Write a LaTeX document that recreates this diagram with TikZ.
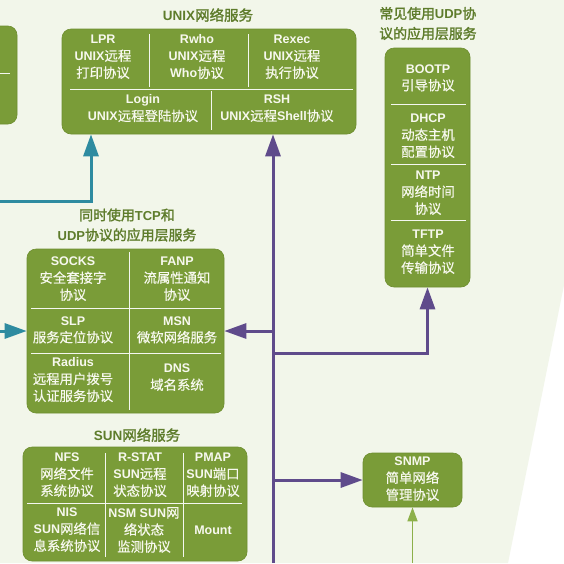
\documentclass[tikz,border=0pt]{standalone}
\usepackage{fontspec}
\setmainfont{Noto Sans CJK SC}[Scale=1.07,FakeBold=0.5]
\newfontfamily\enf{Liberation Sans}
\newfontfamily\cjkb{Noto Sans CJK SC}[Scale=1.07,FakeBold=1.8]
\newcommand\E[1]{{\enf\bfseries #1}}
\newcommand\B[1]{{\cjkb #1}}
\usetikzlibrary{arrows.meta}
\definecolor{bgc}{HTML}{F2F6EA}
\definecolor{boxg}{HTML}{7A9C38}
\definecolor{boxe}{HTML}{6E8E30}
\definecolor{ttlg}{HTML}{5E7C2B}
\definecolor{tealc}{HTML}{2E8BA0}
\definecolor{purc}{HTML}{5F4B8B}
\definecolor{lgc}{HTML}{8DB04A}
\definecolor{txtc}{HTML}{F7F8EE}
\tikzset{
  box/.style={draw=boxe, fill=boxg, rounded corners=9pt, inner sep=0pt, line width=0.6pt},
  txt/.style={text=txtc, align=center, font=\fontsize{12.5}{17}\selectfont, inner sep=0pt},
  ttl/.style={text=ttlg, align=center, font=\fontsize{13}{20}\selectfont, inner sep=0pt},
  divl/.style={draw=white!92!boxg, line width=1pt},
  purarrow/.style={draw=purc, line width=3pt, -{Triangle[length=22pt,width=15pt]}},
  tealarrow/.style={draw=tealc, line width=3pt, -{Triangle[length=22pt,width=15pt]}},
  lgarrow/.style={draw=lgc, line width=1.5pt, -{Triangle[length=14pt,width=10pt]}}
}
\begin{document}
\begin{tikzpicture}[x=1pt,y=-1pt]
\useasboundingbox (0,0) rectangle (564,563);
\clip (0,0) rectangle (564,563);
\fill[white] (0,0) rectangle (564,563);
\fill[bgc] (0,0) -- (564,0) -- (564,285) -- (508,563) -- (0,563) -- cycle;

% partial left box
\node[box, minimum width=44pt, minimum height=98pt] (leftbox) at (-5,75) {};
\draw[divl] (0,73) -- (10,73);

% UNIX box
\node[ttl, font=\fontsize{13.5}{20}\selectfont] (unixt) at (208,15) {\E{UNIX}\B{网络服务}};
\node[box, minimum width=294pt, minimum height=105pt] (unix) at (209,81.5) {};
\draw[divl] (149,34) -- (149,87);
\draw[divl] (248,34) -- (248,87);
\draw[divl] (70,89) -- (353,89);
\draw[divl] (211,91) -- (211,130);
\node[txt] (lpr) at (103,57) {\E{LPR}\\\E{UNIX}远程\\打印协议};
\node[txt] (rwho) at (197,57) {\E{Rwho}\\\E{UNIX}远程\\\E{Who}协议};
\node[txt] (rexec) at (292,57) {\E{Rexec}\\\E{UNIX}远程\\执行协议};
\node[txt] (login) at (143,108.5) {\E{Login}\\\E{UNIX}远程登陆协议};
\node[txt] (rsh) at (277,108.5) {\E{RSH}\\\E{UNIX}远程\E{Shell}协议};

% UDP box
\node[ttl, align=left] (udpt) at (428,23.5) {\B{常见使用}\E{UDP}\B{协}\\\B{议的应用层服务}};
\node[box, minimum width=85pt, minimum height=239pt] (udp) at (427.5,167.5) {};
\draw[divl] (391,104) -- (466,104);
\draw[divl] (391,164) -- (466,164);
\draw[divl] (391,220) -- (466,220);
\node[txt] (bootp) at (428,78) {\E{BOOTP}\\引导协议};
\node[txt] (dhcp) at (428,136) {\E{DHCP}\\动态主机\\配置协议};
\node[txt] (ntp) at (428,193) {\E{NTP}\\网络时间\\协议};
\node[txt] (tftp) at (428,252) {\E{TFTP}\\简单文件\\传输协议};

% TCP/UDP box
\node[ttl] (tcpt) at (127,225) {\B{同时使用}\E{TCP}\B{和}\\\E{UDP}\B{协议的应用层服务}};
\node[box, minimum width=197pt, minimum height=164pt] (tcp) at (125.5,331) {};
\draw[divl] (129,252) -- (129,410);
\draw[divl] (31,308) -- (221,308);
\draw[divl] (31,353) -- (221,353);
\node[txt] (socks) at (73,279) {\E{SOCKS}\\安全套接字\\协议};
\node[txt] (fanp) at (177,279) {\E{FANP}\\流属性通知\\协议};
\node[txt] (slp) at (73,330) {\E{SLP}\\服务定位协议};
\node[txt] (msn) at (177,330) {\E{MSN}\\微软网络服务};
\node[txt] (radius) at (73,380) {\E{Radius}\\远程用户拨号\\认证服务协议};
\node[txt] (dns) at (177,377.5) {\E{DNS}\\域名系统};

% SUN box
\node[ttl, font=\fontsize{13.5}{20}\selectfont] (sunt) at (137,435) {\E{SUN}\B{网络服务}};
\node[box, minimum width=224pt, minimum height=114pt] (sun) at (135,504) {};
\draw[divl] (105,453) -- (105,557);
\draw[divl] (183,453) -- (183,557);
\draw[divl] (27,503) -- (242,503);
\node[txt] (nfs) at (67,475) {\E{NFS}\\网络文件\\系统协议};
\node[txt] (rstat) at (140,475) {\E{R-STAT}\\\E{SUN}远程\\状态协议};
\node[txt] (pmap) at (213,475) {\E{PMAP}\\\E{SUN}端口\\映射协议};
\node[txt] (nis) at (67,530) {\E{NIS}\\\E{SUN}网络信\\息系统协议};
\node[txt] (nsm) at (144,530) {\E{NSM SUN}网\\络状态\\监测协议};
\node[txt] (mount) at (213,530) {\E{Mount}};

% SNMP box
\node[box, minimum width=99pt, minimum height=54pt] (snmp) at (412.5,480) {};
\node[txt] (snmpt) at (412.5,479) {\E{SNMP}\\简单网络\\管理协议};

% connectors
\coordinate (t0) at (0,201);
\draw[tealarrow] (t0) -| ([xshift=-118pt]unix.south);
\coordinate (t1) at (0,331);
\draw[tealarrow] (t1) -- (tcp.west);

\coordinate (pb) at (273,563);
\coordinate (j1) at (273,331);
\coordinate (j2) at (273,353);
\coordinate (j3) at (273,480);
\draw[purarrow] (pb) -- (unix.south -| pb);
\draw[purarrow] (j1) -- (tcp.east);
\draw[purarrow] (j2) -| (udp.south);
\draw[purarrow] (j3) -- (snmp.west);

\coordinate (g0) at (412.5,563);
\draw[lgarrow] (g0) -- (snmp.south);
\end{tikzpicture}
\end{document}
